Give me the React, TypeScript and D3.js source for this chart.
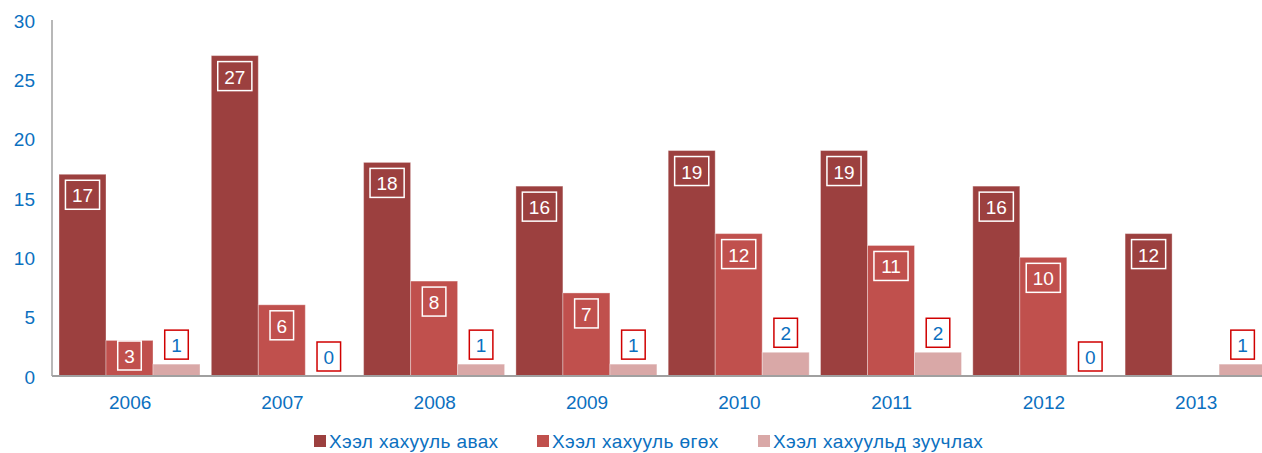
import React from "react";
import * as d3 from "d3";

const years = ["2006", "2007", "2008", "2009", "2010", "2011", "2012", "2013"];
const seriesNames = ["Хээл хахууль авах", "Хээл хахууль өгөх", "Хээл хахуульд зуучлах"];
const avah: (number | null)[] = [17, 27, 18, 16, 19, 19, 16, 12];
const ugukh: (number | null)[] = [3, 6, 8, 7, 12, 11, 10, null];
const zuuchlakh: (number | null)[] = [1, 0, 1, 1, 2, 2, 0, 1];
const yTicks = [0, 5, 10, 15, 20, 25, 30];
const colors = ["#9C403F", "#C0504D", "#D9A8A7"];

const W = 1262;
const H = 453;
const left = 52;
const right = 1270.4;
const top = 20;
const bottom = 376;
const FONT = "'Liberation Sans', Arial, sans-serif";
const BLUE = "#0B70C0";

export default function App() {
  const series = [avah, ugukh, zuuchlakh];
  const x = d3.scaleBand<string>().domain(years).range([left, right]).padding(0);
  const inner = d3
    .scaleBand<number>()
    .domain([0, 1, 2])
    .range([7, 148])
    .padding(0);
  const y = d3.scaleLinear().domain([0, 30]).range([bottom, top]);
  const fs = 19;
  const boxH = 29;
  const boxW = (v: number) => String(v).length * 10.56 + 13;

  const bars: React.ReactNode[] = [];
  const labels: React.ReactNode[] = [];
  series.forEach((vals, si) => {
    vals.forEach((v, i) => {
      if (v === null) return;
      const x0 = (x(years[i]) as number) + (inner(si) as number);
      const bw = inner.bandwidth();
      const yt = y(v);
      if (v > 0) {
        bars.push(
          <rect
            key={`b${si}-${i}`}
            x={x0}
            y={yt}
            width={bw}
            height={bottom - yt}
            fill={colors[si]}
            stroke="rgba(255,255,255,0.35)"
            strokeWidth={1}
          />
        );
      }
      const w = boxW(v);
      const cx = x0 + bw / 2;
      let by: number;
      if (si < 2) {
        by = Math.min(yt + 6, bottom - 6 - boxH);
      } else {
        by = yt - 5 - boxH;
      }
      const inside = si < 2;
      labels.push(
        <g key={`l${si}-${i}`}>
          <rect
            x={cx - w / 2}
            y={by}
            width={w}
            height={boxH}
            fill="none"
            stroke={inside ? "#FFFFFF" : "#D00000"}
            strokeWidth={1.5}
          />
          <text
            x={cx}
            y={by + boxH / 2 + 7.5}
            textAnchor="middle"
            fontSize={fs}
            fontFamily={FONT}
            fill={inside ? "#FFFFFF" : BLUE}
          >
            {v}
          </text>
        </g>
      );
    });
  });

  const legendX = [314, 537, 758];

  return (
    <svg width={W} height={H} style={{ position: "absolute", left: 0, top: 0 }}>
      <rect x={0} y={0} width={W} height={H} fill="#FFFFFF" />
      {yTicks.map((t) => (
        <text
          key={t}
          x={35}
          y={y(t) + 7.5}
          textAnchor="end"
          fontSize={19}
          fontFamily={FONT}
          fill={BLUE}
        >
          {t}
        </text>
      ))}
      {bars}
      <line x1={left} x2={left} y1={top} y2={bottom} stroke="#A0A0A0" strokeWidth={1.5} />
      <line x1={left} x2={W} y1={bottom} y2={bottom} stroke="#A0A0A0" strokeWidth={2} />
      {labels}
      {years.map((yr) => (
        <text
          key={yr}
          x={(x(yr) as number) + x.bandwidth() / 2 + 2}
          y={409}
          textAnchor="middle"
          fontSize={19}
          fontFamily={FONT}
          fill={BLUE}
        >
          {yr}
        </text>
      ))}
      {seriesNames.map((n, i) => (
        <g key={n}>
          <rect x={legendX[i]} y={435} width={12} height={12} fill={colors[i]} />
          <text
            x={legendX[i] + 15}
            y={447.5}
            fontSize={19}
            letterSpacing={0.4}
            fontFamily={FONT}
            fill={BLUE}
          >
            {n}
          </text>
        </g>
      ))}
    </svg>
  );
}
